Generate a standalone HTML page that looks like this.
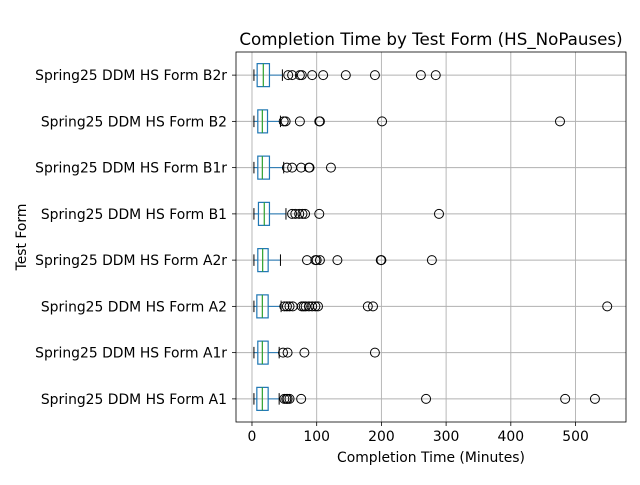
<!DOCTYPE html>
<html><head><meta charset="utf-8"><style>
body{margin:0;background:#fff;font-family:"Liberation Sans","DejaVu Sans",sans-serif}
svg text{font-family:"DejaVu Sans","Liberation Sans",sans-serif;fill:#000}
</style></head><body>
<svg id="chart" width="640" height="480" xmlns="http://www.w3.org/2000/svg"></svg>
<script>
const categories=["Spring25 DDM HS Form A1","Spring25 DDM HS Form A1r","Spring25 DDM HS Form A2","Spring25 DDM HS Form A2r","Spring25 DDM HS Form B1","Spring25 DDM HS Form B1r","Spring25 DDM HS Form B2","Spring25 DDM HS Form B2r"];
const whiskerLow=[3,3,3,3,3,3,3,3];
const q1=[7.5,9,7.5,9,10,9,9,8];
const medians=[16,16,16,16.5,19,16,16,17.5];
const q3=[25,25,25,25,27,27,24,27];
const whiskerHigh=[42,42,45,44,52.5,49,44,47];
const outliers=[
[50,53,55,58,76,269,484,530],
[48,55,81,190],
[50,54,58,63,77,80,83,88,93,98,102,179,187,549],
[85,98,100,105,132,199,200,278],
[62,67,73,78,82,104,289],
[54,62,76,88,89,122],
[49,52,74,104,105,201,476],
[56,62,74,77,93,110,145,190,261,284]];
const xTicks=[0,100,200,300,400,500];

const svg=document.getElementById('chart');
const NS="http://www.w3.org/2000/svg";
const L=236,R=626,T=52,B=422;
const xMin=-24.7,xMax=578;
const x=v=>L+(v-xMin)/(xMax-xMin)*(R-L);
const y=i=>B-(i+0.5)*(B-T)/categories.length;
function mk(tag,attrs,parent){const e=document.createElementNS(NS,tag);for(const k in attrs)e.setAttribute(k,attrs[k]);(parent||svg).appendChild(e);return e;}

const grid=mk('g',{});


xTicks.forEach(t=>{const l=mk('line',{x1:x(t),x2:x(t),y1:T,y2:B,stroke:'#b0b0b0','stroke-width':0.9},grid);

});
categories.forEach((c,i)=>{const l=mk('line',{x1:L,x2:R,y1:y(i),y2:y(i),stroke:'#b0b0b0','stroke-width':0.9},grid);

});

const bh=23;
categories.forEach((c,i)=>{
 const g=mk('g',{});
 
 
 const cy=y(i);
 mk('line',{x1:x(whiskerLow[i]),x2:x(q1[i]),y1:cy,y2:cy,stroke:'#1f77b4','stroke-width':1},g);
 mk('line',{x1:x(q3[i]),x2:x(whiskerHigh[i]),y1:cy,y2:cy,stroke:'#1f77b4','stroke-width':1},g);
 mk('line',{x1:x(whiskerLow[i]),x2:x(whiskerLow[i]),y1:cy-bh/4,y2:cy+bh/4,stroke:'#000','stroke-width':1},g);
 mk('line',{x1:x(whiskerHigh[i]),x2:x(whiskerHigh[i]),y1:cy-bh/4,y2:cy+bh/4,stroke:'#000','stroke-width':1},g);
 mk('rect',{x:x(q1[i]),y:cy-bh/2,width:x(q3[i])-x(q1[i]),height:bh,fill:'none',stroke:'#1f77b4','stroke-width':1.2},g);
 mk('line',{x1:x(medians[i]),x2:x(medians[i]),y1:cy-bh/2,y2:cy+bh/2,stroke:'#2ca02c','stroke-width':1.2},g);
 outliers[i].forEach(v=>{const o=mk('circle',{cx:x(v),cy:cy,r:4.5,fill:'none',stroke:'#000','stroke-width':1},g);
 
 });
 const t=mk('text',{x:L-9,y:cy+5,'text-anchor':'end','font-size':13.9});t.textContent=c;
 
 
 mk('line',{x1:L-4,x2:L,y1:cy,y2:cy,stroke:'#000','stroke-width':0.8});
});
xTicks.forEach(t=>{mk('line',{x1:x(t),x2:x(t),y1:B,y2:B+4,stroke:'#000','stroke-width':0.8});
 const tx=mk('text',{x:x(t),y:B+19,'text-anchor':'middle','font-size':13.9});tx.textContent=t;
 
 });
const frame=mk('rect',{x:L,y:T,width:R-L,height:B-T,fill:'none',stroke:'#000','stroke-width':0.8});


const title=mk('text',{x:(L+R)/2,y:T-7,'text-anchor':'middle','font-size':16.7});title.textContent="Completion Time by Test Form (HS_NoPauses)";


const xl=mk('text',{x:(L+R)/2,y:B+40,'text-anchor':'middle','font-size':13.9});xl.textContent="Completion Time (Minutes)";


const yl=mk('text',{x:0,y:0,'text-anchor':'middle','font-size':13.9,transform:'translate(26,237) rotate(-90)'});yl.textContent="Test Form";


</script>
</body></html>
